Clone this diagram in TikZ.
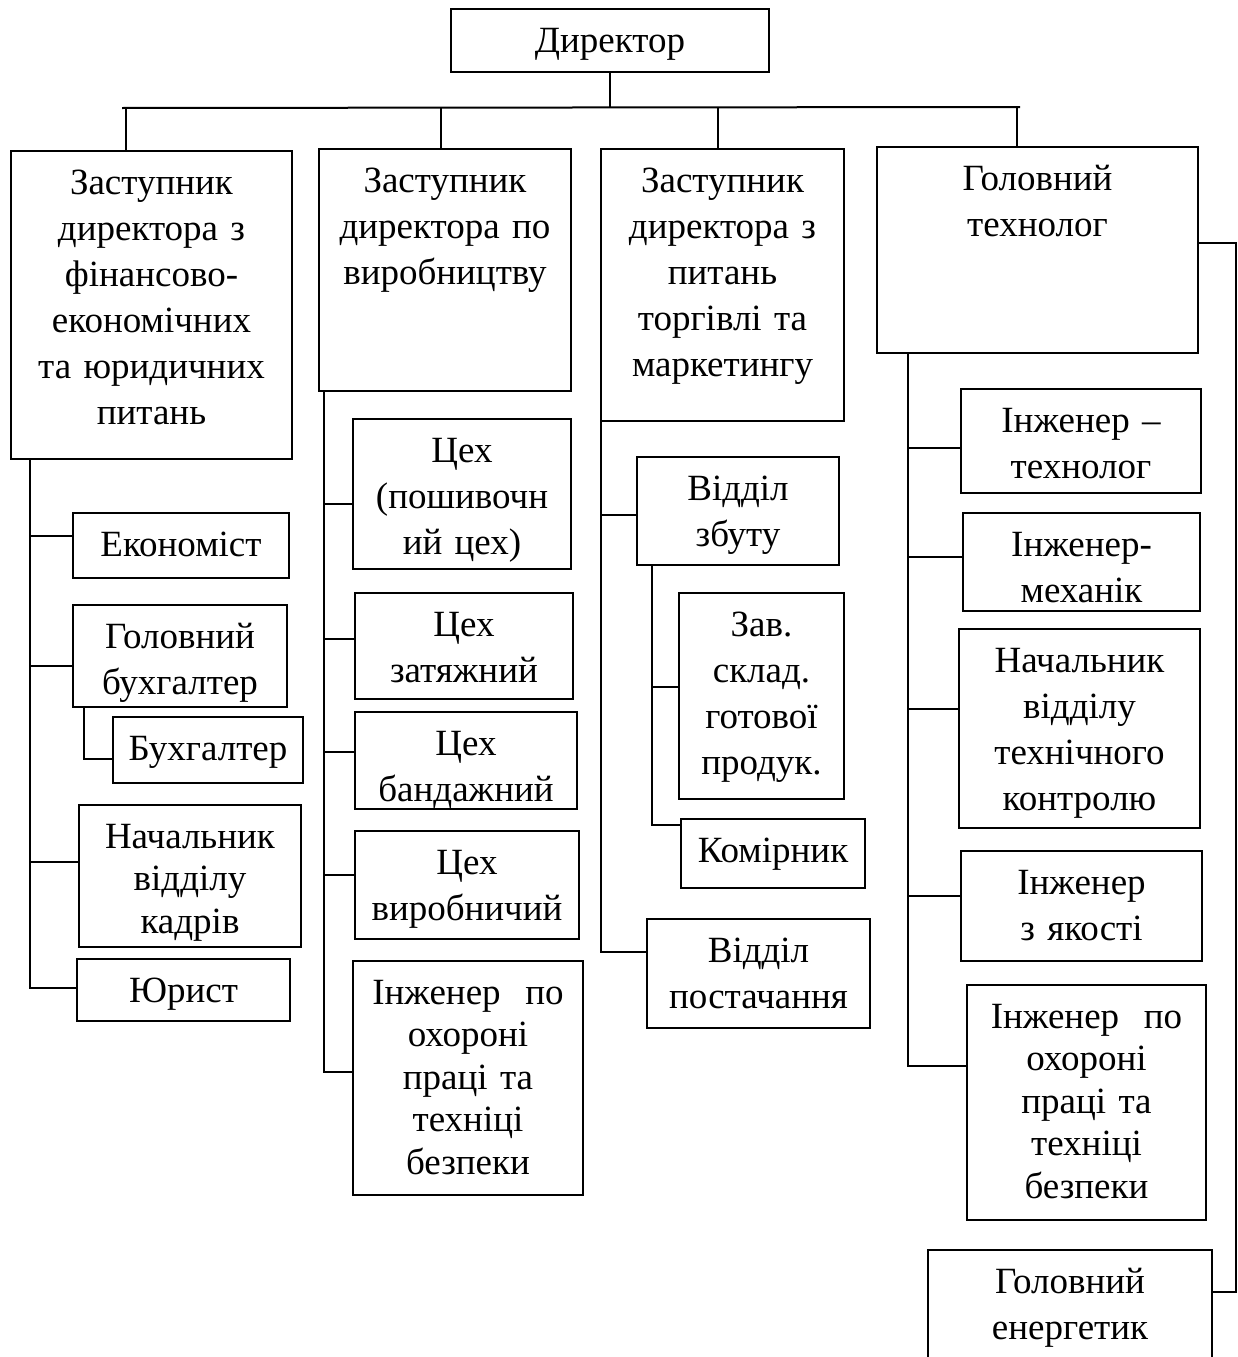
\documentclass[tikz,border=0pt]{standalone}
\usepackage{fontspec}
\setmainfont{Liberation Serif}
\usepackage{tikz}

\begin{document}
\begin{tikzpicture}[x=1pt,y=-1pt,
  box/.style 2 args={draw,line width=2pt,anchor=north west,inner sep=0pt,
    align=center,text width=#1pt,text height=43pt,text depth=#2pt,
    font=\fontsize{37}{46}\selectfont},
  tight/.style={font=\fontsize{37}{42.5}\selectfont},
  conn/.style={line width=2pt}]
  \useasboundingbox (0,0) rectangle (1238,1357);
  % top level
  \node[box={318}{20}] (dir) at (450,8) {Директор};
  \node[box={281}{265}] (zfin) at (10,150) {Заступник\\директора з\\фінансово-\\економічних\\та юридичних\\питань};
  \node[box={252}{199}] (zvyr) at (318,148) {Заступник\\директора по\\виробництву};
  \node[box={243}{229}] (ztorg) at (600,148) {Заступник\\директора з\\питань\\торгівлі та\\маркетингу};
  \node[box={321}{163}] (gtech) at (876,146) {Головний\\технолог};
  % column 1
  \node[box={216}{22}] (ekon) at (72,512) {Економіст};
  \node[box={214}{59}] (gbuh) at (72,604) {Головний\\бухгалтер};
  \node[box={190}{23}] (buh) at (112,716) {Бухгалтер};
  \node[box={222}{99},tight] (kadry) at (78,804) {Начальник\\відділу\\кадрів};
  \node[box={213}{19}] (yur) at (76,958) {Юрист};
  % column 2
  \node[box={218}{107}] (tsposh) at (352,418) {Цех\\(пошивочн\\ий цех)};
  \node[box={218}{63}] (tszat) at (354,592) {Цех\\затяжний};
  \node[box={222}{54}] (tsband) at (354,711) {Цех\\бандажний};
  \node[box={224}{65}] (tsvyr) at (354,830) {Цех\\виробничий};
  \node[box={230}{191},tight] (ohor2) at (352,960) {Інженер~~по\\охороні\\праці та\\техніці\\безпеки};
  % column 3
  \node[box={202}{65}] (zbut) at (636,456) {Відділ\\збуту};
  \node[box={165}{163}] (sklad) at (678,592) {Зав.\\склад.\\готової\\продук.};
  \node[box={184}{26}] (komir) at (680,818) {Комірник};
  \node[box={223}{66}] (post) at (646,918) {Відділ\\постачання};
  % column 4
  \node[box={240}{61}] (intech) at (960,388) {Інженер –\\технолог};
  \node[box={237}{55}] (inmech) at (962,512) {Інженер-\\механік};
  \node[box={241}{156}] (ntk) at (958,628) {Начальник\\відділу\\технічного\\контролю};
  \node[box={241}{67}] (yakist) at (960,850) {Інженер\\з якості};
  \node[box={239}{192},tight] (ohor4) at (966,984) {Інженер~~по\\охороні\\праці та\\техніці\\безпеки};
  \node[box={284}{108}] (energ) at (927,1249) {Головний\\енергетик};

  % bus under the director
  \coordinate (busL) at (122,108);
  \coordinate (busR) at (1020,107);
  \draw[conn] (dir.south) -- (dir.south |- busL);
  \draw[conn] (busL) -- (busR);
  \draw[conn] (busL -| 126,0) -- (zfin.north -| 126,0);
  \draw[conn] (busL -| 441,0) -- (zvyr.north -| 441,0);
  \draw[conn] (busL -| 718,0) -- (ztorg.north -| 718,0);
  \draw[conn] (busR -| 1017,0) -- (gtech.north -| 1017,0);

  % column 1
  \coordinate (t1) at (30,458);
  \coordinate (t1b) at (30,988);
  \draw[conn] (t1) -- (t1b) -- (yur.west |- t1b);
  \draw[conn] (t1 |- 0,536) -- (ekon.west |- 0,536);
  \draw[conn] (t1 |- 0,666) -- (gbuh.west |- 0,666);
  \draw[conn] (t1 |- 0,862) -- (kadry.west |- 0,862);
  \draw[conn] (gbuh.south -| 84,0) |- (buh.west |- 0,759);

  % column 2
  \coordinate (t2) at (324,390);
  \coordinate (t2b) at (324,1072);
  \draw[conn] (t2) -- (t2b) -- (ohor2.west |- t2b);
  \draw[conn] (t2 |- 0,504) -- (tsposh.west |- 0,504);
  \draw[conn] (t2 |- 0,639) -- (tszat.west |- 0,639);
  \draw[conn] (t2 |- 0,752) -- (tsband.west |- 0,752);
  \draw[conn] (t2 |- 0,875) -- (tsvyr.west |- 0,875);

  % column 3
  \coordinate (t3) at (601,420);
  \coordinate (t3b) at (601,952);
  \draw[conn] (t3) -- (t3b) -- (post.west |- t3b);
  \draw[conn] (t3 |- 0,515) -- (zbut.west |- 0,515);
  \coordinate (s3) at (652,564);
  \coordinate (s3b) at (652,825);
  \draw[conn] (s3) -- (s3b) -- (komir.west |- s3b);
  \draw[conn] (s3 |- 0,687) -- (sklad.west |- 0,687);

  % column 4
  \coordinate (t4) at (908,352);
  \coordinate (t4b) at (908,1066);
  \draw[conn] (t4) -- (t4b) -- (ohor4.west |- t4b);
  \draw[conn] (t4 |- 0,448) -- (intech.west |- 0,448);
  \draw[conn] (t4 |- 0,557) -- (inmech.west |- 0,557);
  \draw[conn] (t4 |- 0,709) -- (ntk.west |- 0,709);
  \draw[conn] (t4 |- 0,896) -- (yakist.west |- 0,896);

  % right side line to the power engineer
  \coordinate (r1) at (1236,243);
  \coordinate (r2) at (1236,1292);
  \draw[conn] (gtech.east |- r1) -- (r1) -- (r2) -- (energ.east |- r2);
\end{tikzpicture}
\end{document}
